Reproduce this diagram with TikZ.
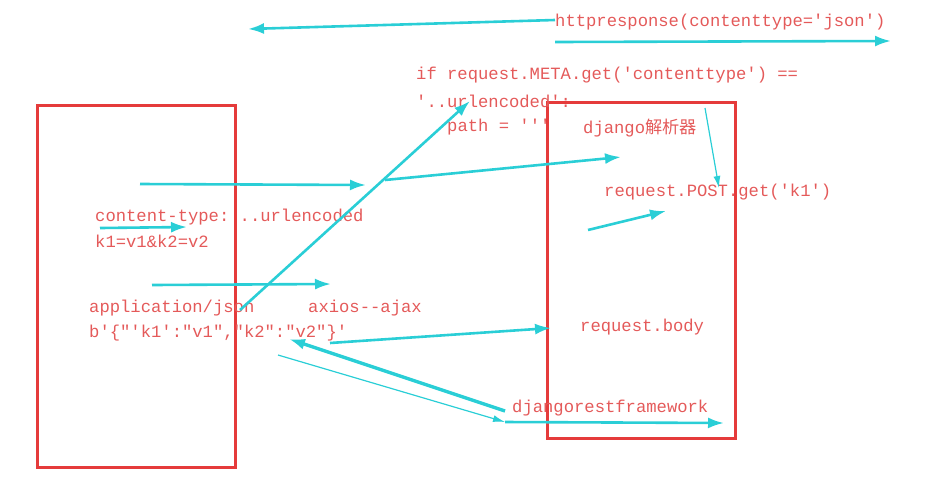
\documentclass[tikz,border=0pt]{standalone}
\usepackage{fontspec}
\setmonofont{Liberation Mono}
\newfontfamily\cjkfont{Noto Sans CJK SC}
\usetikzlibrary{arrows.meta}
\definecolor{codered}{HTML}{E45A5A}
\definecolor{boxred}{HTML}{E53B3B}
\definecolor{flowcyan}{HTML}{2ACED6}

\begin{document}
\begin{tikzpicture}[x=1pt, y=-1pt,
    code/.style={anchor=west, inner sep=0pt, text=codered, font=\ttfamily\fontsize{17.2}{20}\selectfont},
    frame/.style={draw=boxred, line width=3pt, minimum width=#1},
    flow/.style={-{Latex[length=16pt, width=11pt]}, draw=flowcyan, line width=2.6pt},
    thinflow/.style={-{Latex[length=12pt, width=7pt]}, draw=flowcyan, line width=1.2pt}]
	\useasboundingbox (0,0) rectangle (941,491);
	% the two boxes
	\node[frame=198pt, minimum height=362pt] (client) at (136,286) {};
	\node[frame=188pt, minimum height=336pt] (server) at (641,270) {};
	% texts
	\node[code] (resp) at (555,22) {httpresponse(contenttype='json')};
	\node[code] (cond) at (416,75) {if request.META.get('contenttype') ==};
	\node[code] (enc) at (416,101) {'..urlencoded':};
	\node[code] (path) at (447,127) {path = '''};
	\node[code] (parser) at (583,128) {django{\cjkfont 解析器}};
	\node[code] (post) at (604,192) {request.POST.get('k1')};
	\node[code] (ctype) at (95,217) {content-type: ..urlencoded};
	\node[code] (form) at (95,241) {k1=v1\&k2=v2};
	\node[code] (json) at (89,308) {application/json};
	\node[code] (axios) at (308,308) {axios--ajax};
	\node[code] (bytes) at (89,333) {b'\{"'k1':"v1","k2":"v2"\}'};
	\node[code] (body) at (580,327) {request.body};
	\node[code] (drf) at (512,408) {djangorestframework};
	% free ends of the arrows
	\coordinate (respL) at (248,29);
	\coordinate (respT) at (555,20);
	\coordinate (respA) at (555,42);
	\coordinate (respB) at (891,41);
	\coordinate (urlA) at (140,184);
	\coordinate (urlB) at (366,185);
	\coordinate (kvA) at (100,228);
	\coordinate (kvB) at (187,227);
	\coordinate (jsA) at (152,285);
	\coordinate (jsB) at (331,284);
	\coordinate (upA) at (240,310);
	\coordinate (upB) at (470,101);
	\coordinate (psA) at (385,180);
	\coordinate (psB) at (621,157);
	\coordinate (dnA) at (705,108);
	\coordinate (dnB) at (719,188);
	\coordinate (getA) at (588,230);
	\coordinate (getB) at (666,211);
	\coordinate (bdA) at (330,343);
	\coordinate (bdB) at (551,328);
	\coordinate (rfA) at (505,411);
	\coordinate (rfB) at (289,339);
	\coordinate (rfC) at (278,355);
	\coordinate (rfD) at (505,422);
	\coordinate (rfE) at (724,423);
	% arrows
	\draw[flow] (respT) -- (respL);
	\draw[flow] (respA) -- (respB);
	\draw[flow] (urlA) -- (urlB);
	\draw[flow] (kvA) -- (kvB);
	\draw[flow] (jsA) -- (jsB);
	\draw[flow] (upA) -- (upB);
	\draw[flow] (psA) -- (psB);
	\draw[thinflow] (dnA) -- (dnB);
	\draw[flow] (getA) -- (getB);
	\draw[flow] (bdA) -- (bdB);
	\draw[flow, line width=3.4pt] (rfA) -- (rfB);
	\draw[thinflow] (rfC) -- (rfD);
	\draw[flow] (rfD) -- (rfE);
\end{tikzpicture}
\end{document}
